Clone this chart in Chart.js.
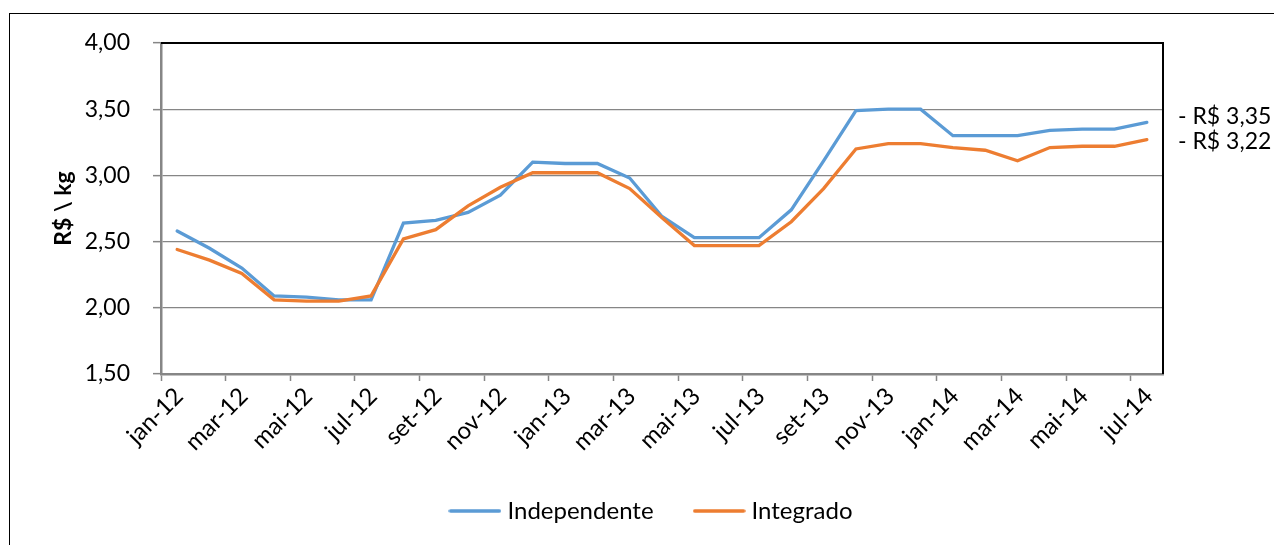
<!DOCTYPE html>
<html>
<head>
<meta charset="utf-8">
<script src="https://cdn.jsdelivr.net/npm/chart.js@4"></script>
<style>
  html, body { margin: 0; padding: 0; background: #fff; }
  canvas { display: block; }
</style>
</head>
<body>
<canvas id="c" width="1274" height="545"></canvas>
<script>
const months = ['jan-12','fev-12','mar-12','abr-12','mai-12','jun-12','jul-12','ago-12','set-12','out-12','nov-12','dez-12',
                'jan-13','fev-13','mar-13','abr-13','mai-13','jun-13','jul-13','ago-13','set-13','out-13','nov-13','dez-13',
                'jan-14','fev-14','mar-14','abr-14','mai-14','jun-14','jul-14'];
const independente = [2.58,2.45,2.30,2.09,2.08,2.06,2.06,2.64,2.66,2.72,2.85,3.10,
                      3.09,3.09,2.98,2.69,2.53,2.53,2.53,2.74,3.11,3.49,3.50,3.50,
                      3.30,3.30,3.30,3.34,3.35,3.35,3.40];
const integrado = [2.44,2.36,2.26,2.06,2.05,2.05,2.09,2.52,2.59,2.77,2.91,3.02,
                   3.02,3.02,2.90,2.68,2.47,2.47,2.47,2.65,2.90,3.20,3.24,3.24,
                   3.21,3.19,3.11,3.21,3.22,3.22,3.27];
const seriesNames = ['Independente', 'Integrado'];
const sideNotes = ['- R$ 3,35', '- R$ 3,22'];
const yTitle = 'R$ \\ kg';

const FONT = 'Lato, "Open Sans", sans-serif';
const GRAY = '#868686';
const BLUE = '#5B9BD5';
const ORANGE = '#ED7D31';

function legendLine(color) {
  const c = document.createElement('canvas');
  c.width = 53; c.height = 6;
  const g = c.getContext('2d');
  g.strokeStyle = color;
  g.lineWidth = 3.5;
  g.lineCap = 'round';
  g.beginPath();
  g.moveTo(2, 3); g.lineTo(51, 3);
  g.stroke();
  return c;
}

const decor = {
  id: 'decor',
  beforeDraw(chart) {
    const ctx = chart.ctx;
    ctx.save();
    ctx.strokeStyle = '#000';
    ctx.lineWidth = 1;
    ctx.strokeRect(9.5, 13.5, 1400, 700);
    ctx.restore();
  },
  afterDraw(chart) {
    const {ctx, chartArea: a} = chart;
    ctx.save();
    ctx.strokeStyle = '#000';
    ctx.lineWidth = 2;
    ctx.beginPath();
    ctx.moveTo(a.left, a.top);
    ctx.lineTo(a.right, a.top);
    ctx.lineTo(a.right, a.bottom);
    ctx.stroke();
    ctx.fillStyle = '#000';
    ctx.font = '23px ' + FONT;
    ctx.textAlign = 'left';
    ctx.textBaseline = 'middle';
    ctx.fillText(sideNotes[0], 1178, 117);
    ctx.fillText(sideNotes[1], 1178, 142);
    ctx.restore();
  }
};

new Chart(document.getElementById('c'), {
  type: 'line',
  data: {
    labels: months,
    datasets: [
      { label: seriesNames[0], data: independente, borderColor: BLUE, backgroundColor: BLUE,
        borderWidth: 3.3, pointRadius: 0, pointStyle: legendLine(BLUE), tension: 0, order: 1, borderCapStyle: 'round' },
      { label: seriesNames[1], data: integrado, borderColor: ORANGE, backgroundColor: ORANGE,
        borderWidth: 3.3, pointRadius: 0, pointStyle: legendLine(ORANGE), tension: 0, order: 0, borderCapStyle: 'round' }
    ]
  },
  options: {
    responsive: false,
    animation: false,
    layout: { padding: { left: 33, right: 0, top: 43, bottom: 12 } },
    plugins: {
      tooltip: { enabled: false },
      legend: {
        position: 'bottom',
        labels: {
          usePointStyle: true,
          pointStyleWidth: 41,
          padding: 45,
          color: '#000',
          font: { family: FONT, size: 24 },
          sort: (a, b) => a.datasetIndex - b.datasetIndex
        }
      }
    },
    scales: {
      x: {
        type: 'category',
        offset: true,
        afterFit: (s) => { s.height = 80; },
        grid: {
          offset: true,
          drawOnChartArea: false,
          tickLength: 7,
          tickWidth: 1.5,
          tickColor: (c) => (c.index % 2 === 0 ? GRAY : 'rgba(0,0,0,0)')
        },
        border: { color: GRAY, width: 2.5 },
        ticks: {
          autoSkip: false,
          minRotation: 45,
          maxRotation: 45,
          padding: 1,
          labelOffset: 2,
          color: '#000',
          font: { family: FONT, size: 24 },
          callback: function (v, i) { return i % 2 === 0 ? months[i] : ''; }
        }
      },
      y: {
        min: 1.5,
        max: 4,
        afterFit: (s) => { s.width = 128; },
        grid: { color: GRAY, lineWidth: 1.3, tickLength: 8, tickColor: GRAY, tickWidth: 1.5 },
        border: { color: GRAY, width: 2.5 },
        ticks: {
          stepSize: 0.5,
          padding: 23,
          color: '#000',
          font: { family: FONT, size: 23 },
          callback: (v) => v.toFixed(2).replace('.', ',')
        },
        title: {
          display: true,
          text: yTitle,
          color: '#000',
          font: { family: FONT, size: 23, weight: 'bold' },
          padding: { top: 17, bottom: 0 }
        }
      },
      y2: {
        position: 'right',
        min: 1.5,
        max: 4,
        afterFit: (s) => { s.width = 111; },
        grid: { display: false, drawOnChartArea: false },
        border: { display: false },
        ticks: { display: false }
      }
    }
  },
  plugins: [decor]
});
</script>
</body>
</html>
